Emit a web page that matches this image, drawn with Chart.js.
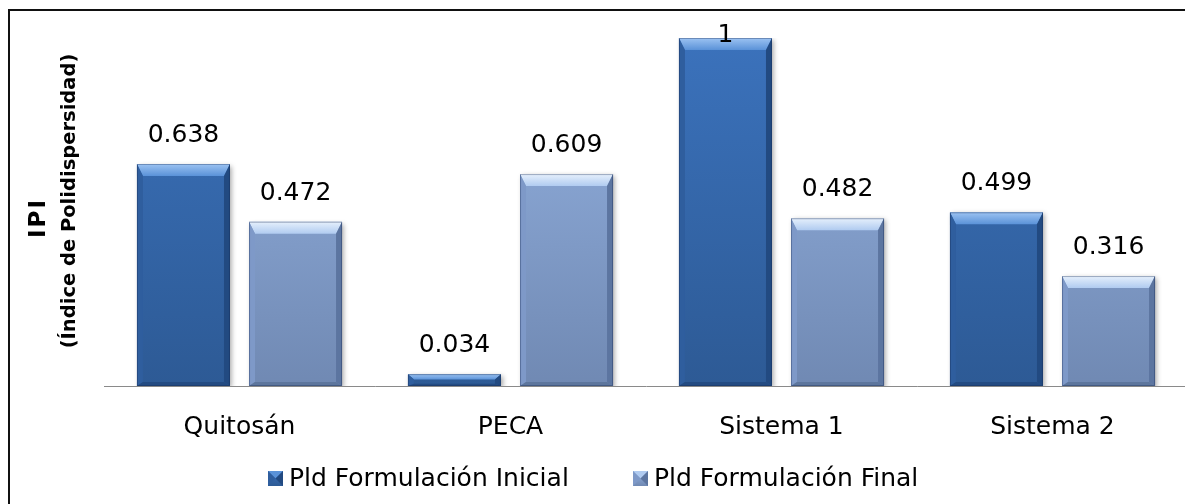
<!DOCTYPE html>
<html>
<head>
<meta charset="utf-8">
<script src="https://cdn.jsdelivr.net/npm/chart.js@4.4.1/dist/chart.umd.min.js"></script>
<style>
  html, body { margin: 0; padding: 0; background: #fff; overflow: hidden; width: 1185px; height: 504px; }
  #frame { position: absolute; left: 8px; top: 9px; width: 1300px; height: 600px;
           border-left: 2px solid #111; border-top: 2px solid #111; }
  #c { position: absolute; left: 0; top: 0; }
</style>
</head>
<body>
<div id="frame"></div>
<canvas id="c" width="1200" height="504"></canvas>
<script>
// Polydispersity index per formulation, before and after
const categories = ['Quitosán', 'PECA', 'Sistema 1', 'Sistema 2'];
const seriesNames = ['Pld Formulación Inicial', 'Pld Formulación Final'];
const pdiInicial = [0.638, 0.034, 1, 0.499];
const pdiFinal = [0.472, 0.609, 0.482, 0.316];
const yTitleLines = ['IPI', '(Índice de Polidispersidad)'];

const FONT = '"DejaVu Sans", sans-serif';

// Beveled bar palette for each series
const palettes = [
  { faceTop: '#3B72BC', faceBot: '#2D5A95', bevelTop: '#9CC3F2', bevelTop2: '#5A92D8',
    left: '#2F5E9E', right: '#224A81', bottom: '#234B82' },
  { faceTop: '#95B3E2', faceBot: '#7089B3', bevelTop: '#E6F0FC', bevelTop2: '#B0CBF0',
    left: '#7E99C8', right: '#5C75A0', bottom: '#5D769D' }
];

function faceGradient(ctx, area, p) {
  const g = ctx.createLinearGradient(0, area.top, 0, area.bottom);
  g.addColorStop(0, p.faceTop);
  g.addColorStop(1, p.faceBot);
  return g;
}

function drawBevel(ctx, L, R, T, B, p) {
  const h = B - T;
  const s = Math.min(6, (R - L) / 4);
  const t = Math.min(12, h * 0.45);
  const bb = Math.min(4, h * 0.2);
  // top facet
  let g = ctx.createLinearGradient(0, T, 0, T + t);
  g.addColorStop(0, p.bevelTop);
  g.addColorStop(1, p.bevelTop2);
  ctx.fillStyle = g;
  ctx.beginPath();
  ctx.moveTo(L, T); ctx.lineTo(R, T); ctx.lineTo(R - s, T + t); ctx.lineTo(L + s, T + t); ctx.closePath();
  ctx.fill();
  // left facet
  ctx.fillStyle = p.left;
  ctx.beginPath();
  ctx.moveTo(L, T); ctx.lineTo(L + s, T + t); ctx.lineTo(L + s, B - bb); ctx.lineTo(L, B); ctx.closePath();
  ctx.fill();
  // right facet
  ctx.fillStyle = p.right;
  ctx.beginPath();
  ctx.moveTo(R, T); ctx.lineTo(R - s, T + t); ctx.lineTo(R - s, B - bb); ctx.lineTo(R, B); ctx.closePath();
  ctx.fill();
  // bottom facet
  ctx.fillStyle = p.bottom;
  ctx.beginPath();
  ctx.moveTo(L, B); ctx.lineTo(L + s, B - bb); ctx.lineTo(R - s, B - bb); ctx.lineTo(R, B); ctx.closePath();
  ctx.fill();
  // outline
  ctx.strokeStyle = 'rgba(20,40,80,0.35)';
  ctx.lineWidth = 1;
  ctx.strokeRect(L + 0.5, T + 0.5, R - L - 1, B - T - 1);
}

const bevelPlugin = {
  id: 'bevel',
  beforeDatasetDraw(chart) {
    const ctx = chart.ctx;
    ctx.save();
    ctx.shadowColor = 'rgba(0,0,0,0.35)';
    ctx.shadowBlur = 5;
    ctx.shadowOffsetX = 2;
    ctx.shadowOffsetY = 2;
  },
  afterDatasetDraw(chart, args) {
    const ctx = chart.ctx;
    ctx.restore();
    const p = palettes[args.index];
    args.meta.data.forEach(bar => {
      const L = bar.x - bar.width / 2, R = bar.x + bar.width / 2;
      drawBevel(ctx, L, R, Math.min(bar.y, bar.base), Math.max(bar.y, bar.base), p);
    });
  }
};

// Value labels above each bar, kept inside the frame
const valueLabels = {
  id: 'valueLabels',
  afterDatasetsDraw(chart) {
    const ctx = chart.ctx;
    ctx.save();
    ctx.font = '25px ' + FONT;
    ctx.fillStyle = '#000';
    ctx.textAlign = 'center';
    ctx.textBaseline = 'alphabetic';
    chart.data.datasets.forEach((ds, i) => {
      chart.getDatasetMeta(i).data.forEach((bar, j) => {
        const y = Math.max(bar.y - 22, 42);
        ctx.fillText(String(ds.data[j]), bar.x, y);
      });
    });
    ctx.restore();
  }
};

// Two-line rotated y-axis title
const yTitle = {
  id: 'yTitle',
  afterDraw(chart) {
    const ctx = chart.ctx;
    ctx.save();
    ctx.fillStyle = '#000';
    ctx.textAlign = 'center';
    ctx.textBaseline = 'middle';
    ctx.translate(39, 218);
    ctx.rotate(-Math.PI / 2);
    ctx.font = 'bold 23px ' + FONT;
    if ('letterSpacing' in ctx) ctx.letterSpacing = '2px';
    ctx.fillText(yTitleLines[0], 0, 0);
    ctx.restore();
    ctx.save();
    ctx.fillStyle = '#000';
    ctx.textAlign = 'center';
    ctx.textBaseline = 'middle';
    ctx.translate(70, 201);
    ctx.rotate(-Math.PI / 2);
    ctx.font = 'bold 19.5px ' + FONT;
    ctx.fillText(yTitleLines[1], 0, 0);
    ctx.restore();
  }
};

// Legend row under the category labels
const legendRow = {
  id: 'legendRow',
  afterDraw(chart) {
    const ctx = chart.ctx;
    const starts = [268, 633];
    ctx.save();
    ctx.font = '25px ' + FONT;
    ctx.textBaseline = 'alphabetic';
    ctx.textAlign = 'left';
    chart.data.datasets.forEach((ds, i) => {
      const x = starts[i], y = 471, s = 15;
      const p = palettes[i];
      const g = ctx.createLinearGradient(0, y, 0, y + s);
      g.addColorStop(0, p.faceTop); g.addColorStop(1, p.faceBot);
      ctx.fillStyle = g;
      ctx.fillRect(x, y, s, s);
      // pyramid facets of the marker
      const c = s / 2;
      ctx.fillStyle = p.bevelTop2;
      ctx.beginPath(); ctx.moveTo(x, y); ctx.lineTo(x + s, y); ctx.lineTo(x + c, y + c); ctx.closePath(); ctx.fill();
      ctx.fillStyle = p.left;
      ctx.beginPath(); ctx.moveTo(x, y); ctx.lineTo(x + c, y + c); ctx.lineTo(x, y + s); ctx.closePath(); ctx.fill();
      ctx.fillStyle = p.right;
      ctx.beginPath(); ctx.moveTo(x + s, y); ctx.lineTo(x + c, y + c); ctx.lineTo(x + s, y + s); ctx.closePath(); ctx.fill();
      ctx.fillStyle = '#000';
      ctx.fillText(ds.label, x + s + 6, 486);
    });
    ctx.restore();
  }
};

const canvas = document.getElementById('c');
new Chart(canvas, {
  type: 'bar',
  data: {
    labels: categories,
    datasets: [
      { label: seriesNames[0], data: pdiInicial,
        backgroundColor: c => faceGradient(c.chart.ctx, c.chart.chartArea || {top: 38, bottom: 386}, palettes[0]),
        borderWidth: 0 },
      { label: seriesNames[1], data: pdiFinal,
        backgroundColor: c => faceGradient(c.chart.ctx, c.chart.chartArea || {top: 38, bottom: 386}, palettes[1]),
        borderWidth: 0 }
    ]
  },
  options: {
    responsive: false,
    animation: false,
    devicePixelRatio: 1,
    layout: { padding: { left: 104, right: 12, top: 38, bottom: 0 } },
    datasets: { bar: { categoryPercentage: 0.827, barPercentage: 0.83 } },
    plugins: { legend: { display: false }, tooltip: { enabled: false } },
    scales: {
      x: {
        grid: { display: false, drawTicks: false },
        border: { display: true, color: '#8A8A8A', width: 1 },
        ticks: { color: '#000', font: { family: FONT, size: 25 }, padding: 26, maxRotation: 0 },
        afterFit(scale) { scale.height = 118; }
      },
      y: { display: false, min: 0, max: 1 }
    }
  },
  plugins: [bevelPlugin, valueLabels, yTitle, legendRow]
});
</script>
</body>
</html>
